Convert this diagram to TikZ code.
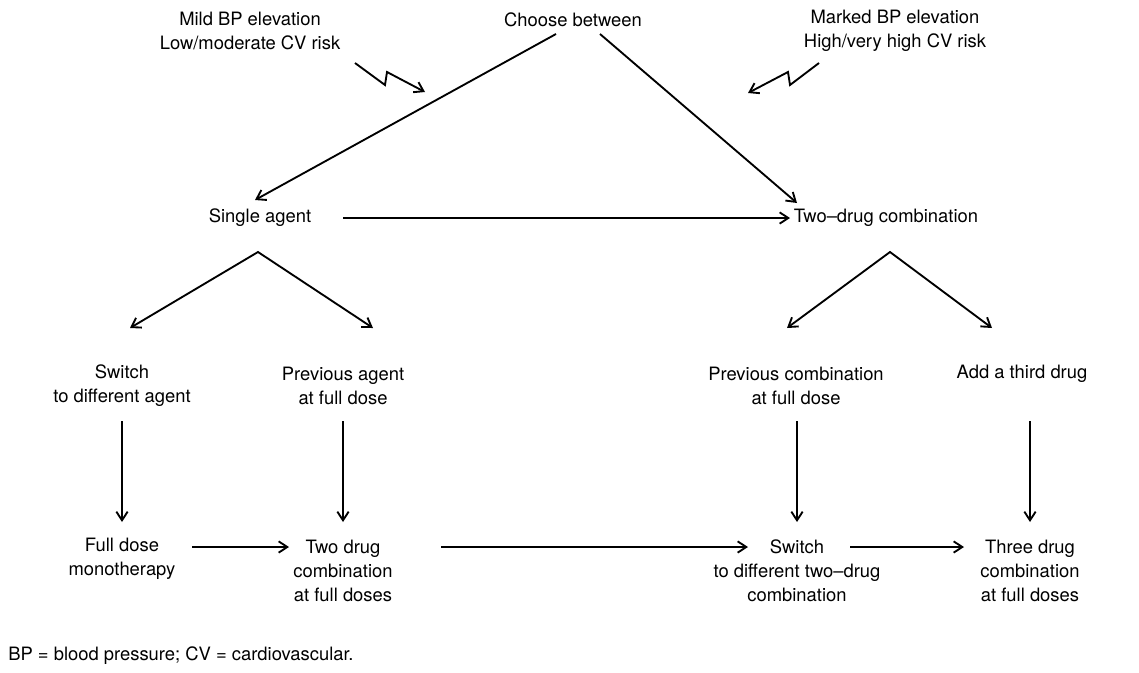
\documentclass[tikz,border=0pt]{standalone}
\usepackage{fontspec}
\setmainfont{TeX Gyre Heros}
\usetikzlibrary{arrows.meta}

\begin{document}
\begin{tikzpicture}[x=0.75pt,y=-0.75pt,
  lbl/.style={align=center,font=\fontsize{13.8}{18}\selectfont,inner sep=0pt},
  flow/.style={-{Straight Barb[length=6.5pt,width=8.5pt]},line width=1.4pt},
  both/.style={{Straight Barb[length=6.5pt,width=8.5pt]}-{Straight Barb[length=6.5pt,width=8.5pt]},line width=1.4pt}]
  \useasboundingbox (0,0) rectangle (1139,672);
  % top row
  \node[lbl] (mild) at (250,31) {Mild BP elevation\\Low/moderate CV risk};
  \node[lbl] (choose) at (573,20) {Choose between};
  \node[lbl] (marked) at (895,31) {Marked BP elevation\\High/very high CV risk};
  % first choice
  \node[lbl] (single) at (260,218) {Single agent};
  \node[lbl] (twodrug) at (886,218) {Two--drug combination};
  % second step
  \node[lbl] (switch) at (122,386) {Switch\\to different agent};
  \node[lbl] (prevagent) at (343,386) {Previous agent\\at full dose};
  \node[lbl] (prevcomb) at (796,386) {Previous combination\\at full dose};
  \node[lbl] (third) at (1022,374) {Add a third drug};
  % third step
  \node[lbl] (fulldose) at (122,559) {Full dose\\monotherapy};
  \node[lbl] (twofull) at (343,571) {Two drug\\combination\\at full doses};
  \node[lbl] (switchtwo) at (797,571) {Switch\\to different two--drug\\combination};
  \node[lbl] (threefull) at (1030,571) {Three drug\\combination\\at full doses};
  \node[lbl,anchor=west] (note) at (8,656) {BP = blood pressure; CV = cardiovascular.};

  % end points
  \coordinate (choose-l) at (556,34);
  \coordinate (choose-r) at (600,34);
  \coordinate (single-in) at (255,200);
  \coordinate (twodrug-in) at (797,203);
  \coordinate (single-apex) at (258,252);
  \coordinate (twodrug-apex) at (890,252);

  \draw[flow] (choose-l) -- (single-in);
  \draw[flow] (choose-r) -- (twodrug-in);
  \draw[flow] (355,63) -- (385,85) -- (387,72) -- (425,92);
  \draw[flow] (819,63) -- (790,85) -- (788,72) -- (748,93);
  \draw[flow] (343,218) -- (790,218);

  \draw[both] (130,328) -- (single-apex) -- (373,328);
  \draw[both] (787,328) -- (twodrug-apex) -- (992,328);

  \draw[flow] (122,421) -- (122,522);
  \draw[flow] (343,421) -- (343,522);
  \draw[flow] (797,421) -- (797,522);
  \draw[flow] (1030,421) -- (1030,522);

  \draw[flow] (192,547) -- (289,547);
  \draw[flow] (441,547) -- (748,547);
  \draw[flow] (850,547) -- (964,547);
\end{tikzpicture}
\end{document}
